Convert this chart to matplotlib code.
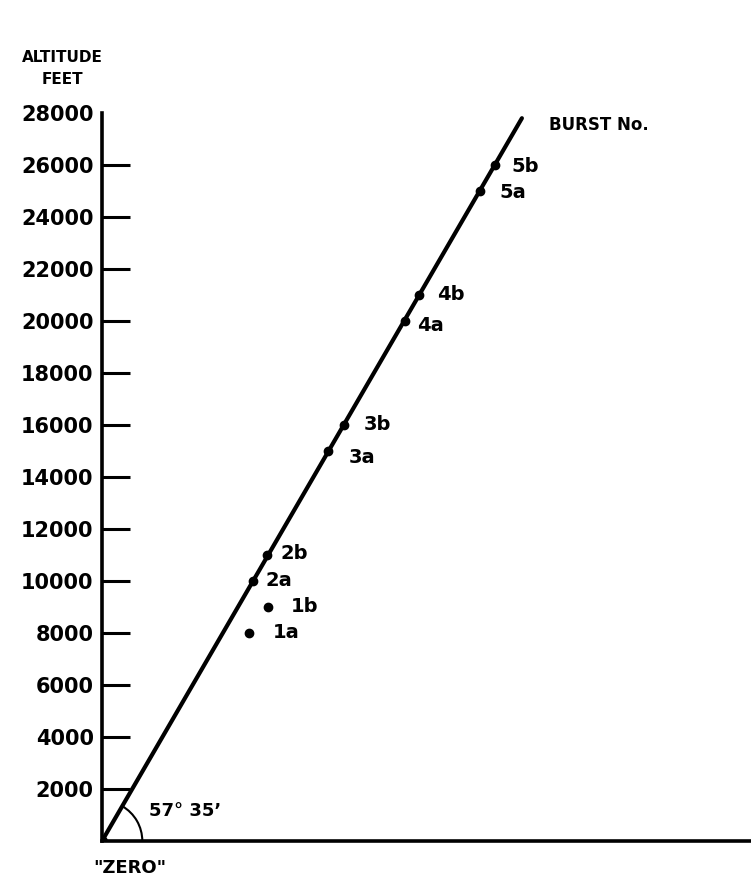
import numpy as np
import matplotlib
matplotlib.use("Agg")
import matplotlib.pyplot as plt
from matplotlib.patches import Arc

# --------------------------------------------------------------
# Data (feet)
# --------------------------------------------------------------
altitude_ticks = [2000, 4000, 6000, 8000, 10000, 12000, 14000,
                  16000, 18000, 20000, 22000, 24000, 26000, 28000]
burst_names = ["1a", "1b", "2a", "2b", "3a", "3b", "4a", "4b", "5a", "5b"]
burst_alt = [8000, 9000, 10000, 11000, 15000, 16000, 20000, 21000, 25000, 26000]
burst_dist = [5650, 6400, 5800, 6350, 8700, 9300, 11650, 12200, 14550, 15100]
line_dist = [0, 16150]
line_alt = [0, 27800]
angle_text = "57\u00b0 35\u2019"

# label offsets in points (dx, dy)
label_off = [(17, 0), (16, 0), (9, 0), (10, 1), (15, -5),
             (14, 0), (9, -3), (13, 0), (14, -1), (12, -1)]

fig = plt.figure(figsize=(7.51, 8.83), dpi=100)
ax = fig.add_axes([102 / 751, 42 / 883, 649 / 751, 728 / 883])
ax.set_xlim(0, 649 / 26 * 1000)
ax.set_ylim(0, 28000)

for s in ["top", "right"]:
    ax.spines[s].set_visible(False)
ax.spines["left"].set_linewidth(2.6)
ax.spines["bottom"].set_linewidth(2.6)
ax.set_xticks([])
ax.set_yticks(altitude_ticks)
ax.set_yticklabels([str(t) for t in altitude_ticks], fontsize=15, fontweight="bold")
ax.tick_params(axis="y", direction="in", length=20, width=2.2, pad=6)
ax.yaxis.get_major_ticks()[-1].tick1line.set_visible(False)

# burst line
ax.plot(line_dist, line_alt, color="black", lw=3.0, solid_capstyle="round")

# burst points
ax.plot(burst_dist, burst_alt, "o", color="black", ms=6)
for name, x, y, (dx, dy) in zip(burst_names, burst_dist, burst_alt, label_off):
    ax.annotate(name, (x, y), xytext=(dx, dy), textcoords="offset points",
                fontsize=14, fontweight="bold", va="center", ha="left")

# angle arc at origin
ang = np.degrees(np.arctan2(line_alt[1], line_dist[1]))
ax.add_patch(Arc((0, 0), 2 * 1550, 2 * 1550, theta1=0, theta2=ang,
                 color="black", lw=1.5, transform=ax.transData))
ax.plot([0], [0], "o", color="black", ms=7)
ax.text(1800, 1150, angle_text, fontsize=13, fontweight="bold", va="center", ha="left")

# titles
fig.text(62 / 751, 1 - 58 / 883, "ALTITUDE", fontsize=11, fontweight="bold", ha="center", va="center")
fig.text(62 / 751, 1 - 80 / 883, "FEET", fontsize=11, fontweight="bold", ha="center", va="center")
fig.text(549 / 751, 1 - 125 / 883, "BURST No.", fontsize=12, fontweight="bold", ha="left", va="center")
fig.text(130 / 751, 1 - 868 / 883, "\"ZERO\"", fontsize=13, fontweight="bold", ha="center", va="center")

fig.savefig("out.png", dpi=100)
